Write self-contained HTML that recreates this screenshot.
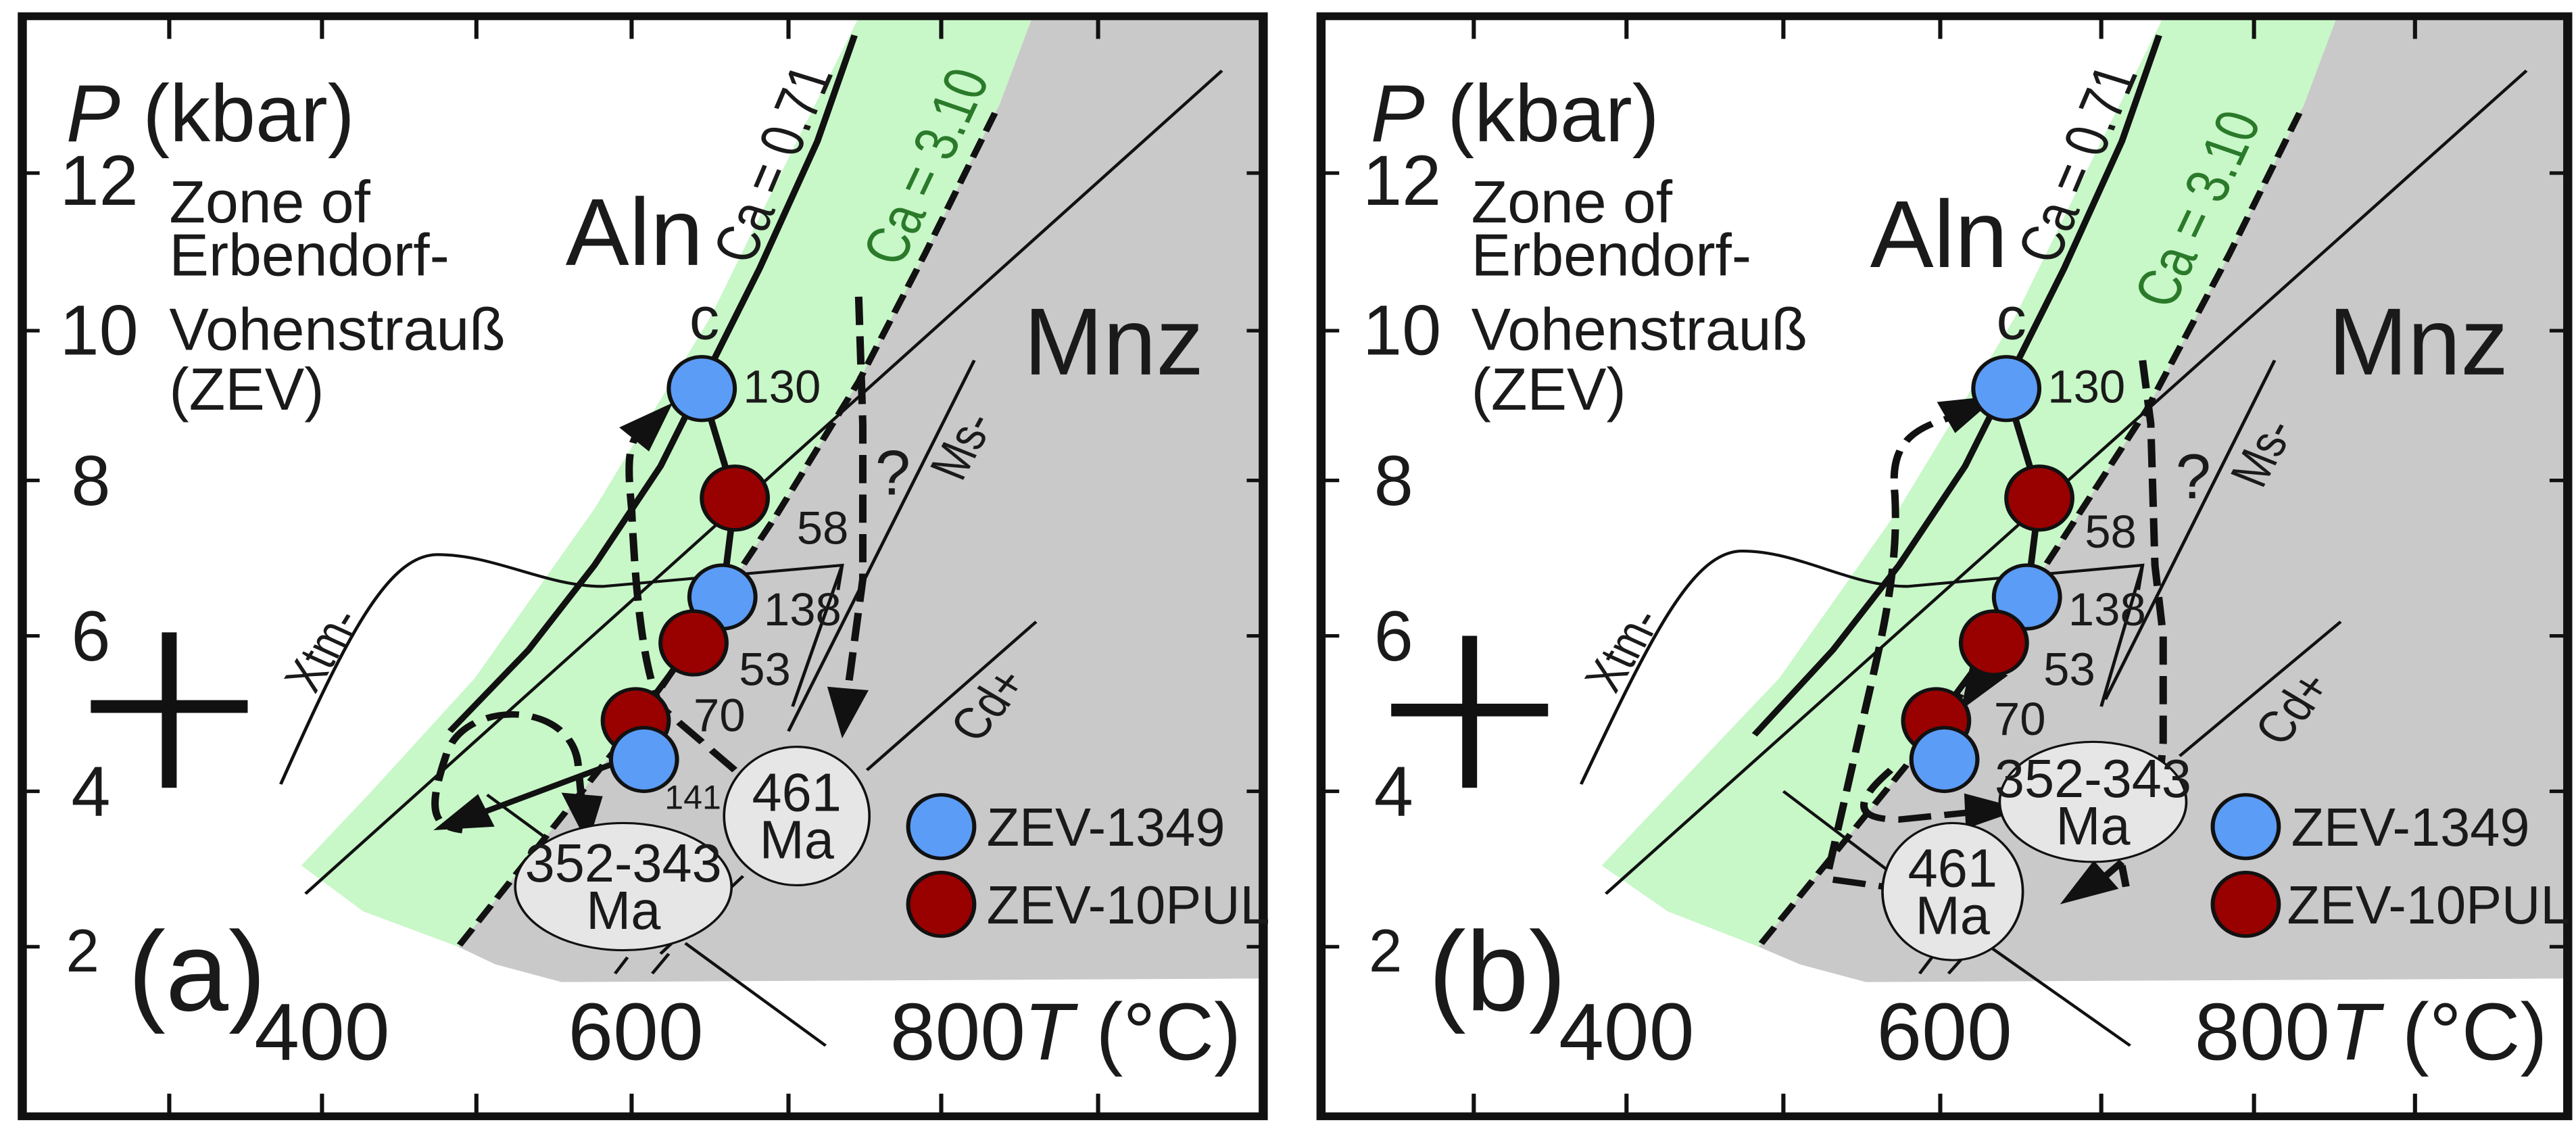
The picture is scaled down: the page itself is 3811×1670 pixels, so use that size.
<!DOCTYPE html>
<html><head><meta charset="utf-8"><style>
html,body{margin:0;padding:0;background:#fff;}
svg{display:block;}
text{font-family:"Liberation Sans",sans-serif;fill:#1a1a1a;}
</style></head><body>
<svg width="3811" height="1670" viewBox="0 0 3120 1598" preserveAspectRatio="none" xmlns="http://www.w3.org/2000/svg">
<!-- ============ PANEL A ============ -->
<g>
<polygon points="1250,25 1530,25 1530,1385 680,1390 600,1365 555,1340 780,1010 940,730 1040,540 1205,160 1210,150" fill="#c9c9c9"/>
<polygon points="1040,25 1250,25 1210,150 1205,160 1120,360 1040,540 940,730 780,1010 555,1340 440,1290 365,1225 450,1120 575,960 720,720 860,450 965,200" fill="#c8f7c8"/>
<g stroke="#111" stroke-width="4" fill="none">
<line x1="370" y1="1265" x2="1480" y2="100"/>
<line x1="1180" y1="510" x2="955" y2="1035"/>
<line x1="1020" y1="800" x2="960" y2="1000"/>
<line x1="1255" y1="880" x2="1050" y2="1090"/>
<line x1="900" y1="1240" x2="800" y2="1350"/>
<line x1="760" y1="1355" x2="745" y2="1378"/>
<line x1="810" y1="1350" x2="790" y2="1378"/>
<line x1="830" y1="1335" x2="1000" y2="1480"/>
<path d="M340,1110 C420,900 470,785 530,785 C600,785 660,830 730,830 L1020,800 L1015,835"/>
<line x1="590" y1="1125" x2="660" y2="1185"/>
</g>
<polyline points="1035,50 990,200 920,380 860,520 800,660 720,800 640,920 545,1035" fill="none" stroke="#111" stroke-width="8" stroke-linejoin="round"/>
<polyline points="1205,160 1120,360 1040,540 940,730 780,1010 555,1340" fill="none" stroke="#111" stroke-width="8" stroke-dasharray="28,12"/>
<g stroke="#111" stroke-width="9" fill="none" stroke-dasharray="40,16">
<path d="M890,1090 L800,1000 C780,950 770,850 765,720 C760,660 760,630 775,610"/>
<path d="M1040,420 L1045,600 L1045,820 L1030,950 L1025,990"/>
<path d="M705,1140 L700,1080 C690,990 560,990 540,1070 C520,1140 520,1170 560,1175"/>
</g>
<line x1="745" y1="1080" x2="580" y2="1152" stroke="#111" stroke-width="8"/>
<g fill="#111">
<polygon points="815,570 786,639 750,605"/>
<polygon points="1020,1045 1052,977 1002,972"/>
<polygon points="712,1195 730,1127 680,1122"/>
<polygon points="525,1175 599,1170 579,1124"/>
</g>
<polyline points="850,550 890,705 875,845 840,910 770,1020 780,1075" fill="none" stroke="#111" stroke-width="8"/>
<g stroke="#111" stroke-width="5">
<ellipse cx="850" cy="550" rx="40" ry="45" fill="#5b9cf6"/>
<ellipse cx="890" cy="705" rx="40" ry="45" fill="#990000"/>
<ellipse cx="875" cy="845" rx="40" ry="45" fill="#5b9cf6"/>
<ellipse cx="840" cy="910" rx="40" ry="45" fill="#990000"/>
<ellipse cx="770" cy="1020" rx="40" ry="45" fill="#990000"/>
<ellipse cx="780" cy="1075" rx="40" ry="45" fill="#5b9cf6"/>
<ellipse cx="1140" cy="1170" rx="40" ry="45" fill="#5b9cf6"/>
<ellipse cx="1140" cy="1280" rx="40" ry="45" fill="#990000"/>
</g>
<g stroke="#111" stroke-width="3" fill="#e6e6e6">
<ellipse cx="965" cy="1155" rx="88" ry="98"/>
<ellipse cx="755" cy="1255" rx="131" ry="90"/>
</g>
<rect x="27" y="23" width="1503" height="1557" fill="none" stroke="#111" stroke-width="11"/>
<g stroke="#111" stroke-width="5">
<line x1="27" y1="245" x2="48" y2="245"/><line x1="27" y1="468" x2="48" y2="468"/><line x1="27" y1="680" x2="48" y2="680"/><line x1="27" y1="900" x2="48" y2="900"/><line x1="27" y1="1120" x2="48" y2="1120"/><line x1="27" y1="1340" x2="48" y2="1340"/>
<line x1="1530" y1="245" x2="1510" y2="245"/><line x1="1530" y1="468" x2="1510" y2="468"/><line x1="1530" y1="680" x2="1510" y2="680"/><line x1="1530" y1="900" x2="1510" y2="900"/><line x1="1530" y1="1120" x2="1510" y2="1120"/><line x1="1530" y1="1340" x2="1510" y2="1340"/>
<line x1="205" y1="23" x2="205" y2="55"/><line x1="390" y1="23" x2="390" y2="55"/><line x1="577" y1="23" x2="577" y2="55"/><line x1="765" y1="23" x2="765" y2="55"/><line x1="955" y1="23" x2="955" y2="55"/><line x1="1140" y1="23" x2="1140" y2="55"/><line x1="1330" y1="23" x2="1330" y2="55"/>
<line x1="205" y1="1580" x2="205" y2="1548"/><line x1="390" y1="1580" x2="390" y2="1548"/><line x1="577" y1="1580" x2="577" y2="1548"/><line x1="765" y1="1580" x2="765" y2="1548"/><line x1="955" y1="1580" x2="955" y2="1548"/><line x1="1140" y1="1580" x2="1140" y2="1548"/><line x1="1330" y1="1580" x2="1330" y2="1548"/>
</g>
<g stroke="#111" stroke-width="18"><line x1="110" y1="1000" x2="300" y2="1000"/><line x1="205" y1="895" x2="205" y2="1115"/></g>
<text transform="translate(80,200) scale(0.855,1)" font-size="115"><tspan font-style="italic">P</tspan> (kbar)</text>
<g font-size="100" text-anchor="middle">
<text transform="translate(120,290) scale(0.855,1)">12</text>
<text transform="translate(120,502) scale(0.855,1)">10</text>
<text transform="translate(110,715) scale(0.855,1)">8</text>
<text transform="translate(110,935) scale(0.855,1)">6</text>
<text transform="translate(110,1155) scale(0.855,1)">4</text>
<text transform="translate(100,1375) scale(0.855,1)" font-size="85">2</text></g>
<g font-size="84">
<text transform="translate(205,315) scale(0.855,1)">Zone of</text>
<text transform="translate(205,390) scale(0.855,1)">Erbendorf-</text>
<text transform="translate(205,495) scale(0.855,1)">Vohenstrauß</text>
<text transform="translate(205,580) scale(0.855,1)">(ZEV)</text></g>
<text transform="translate(155,1430) scale(0.855,1)" font-size="160">(a)</text>
<g font-size="115" text-anchor="middle">
<text transform="translate(390,1500) scale(0.855,1)">400</text>
<text transform="translate(770,1500) scale(0.855,1)">600</text>
<text transform="translate(1160,1500) scale(0.855,1)">800</text></g>
<text transform="translate(1240,1500) scale(0.855,1)" font-size="115"><tspan font-style="italic">T</tspan> (°C)</text>
<text transform="translate(685,375) scale(0.855,1)" font-size="135">Aln</text>
<text transform="translate(1240,530) scale(0.855,1)" font-size="135">Mnz</text>
<text transform="translate(835,480) scale(0.855,1)" font-size="85">c</text>
<text transform="translate(1060,700) scale(0.855,1)" font-size="90">?</text>
<g font-size="66">
<text transform="translate(900,570) scale(0.855,1)">130</text>
<text transform="translate(965,770) scale(0.855,1)">58</text>
<text transform="translate(925,885) scale(0.855,1)">138</text>
<text transform="translate(895,970) scale(0.855,1)">53</text>
<text transform="translate(840,1035) scale(0.855,1)">70</text>
<text transform="translate(805,1145) scale(0.855,1)" font-size="48">141</text></g>
<text font-size="74" transform="translate(960,240) rotate(-70) scale(0.9,1)" text-anchor="middle">Ca = 0.71</text>
<text font-size="74" style="fill:#2a7a2a" transform="translate(1145,245) rotate(-68) scale(0.9,1)" text-anchor="middle">Ca = 3.10</text>
<text font-size="64" transform="translate(410,930) rotate(-62) scale(0.9,1)" text-anchor="middle">Xtm-</text>
<text font-size="64" transform="translate(1185,640) rotate(-65) scale(0.9,1)" text-anchor="middle">Ms-</text>
<text font-size="64" transform="translate(1215,1010) rotate(-55) scale(0.9,1)" text-anchor="middle">Cd+</text>
<g font-size="76" text-anchor="middle">
<text transform="translate(965,1148) scale(0.855,1)">461</text>
<text transform="translate(965,1215) scale(0.855,1)">Ma</text>
<text transform="translate(755,1248) scale(0.855,1)">352-343</text>
<text transform="translate(755,1315) scale(0.855,1)">Ma</text></g>
<g font-size="76">
<text transform="translate(1195,1197) scale(0.855,1)">ZEV-1349</text>
<text transform="translate(1195,1307) scale(0.855,1)">ZEV-10PUL</text></g>
</g>

<!-- ============ PANEL B ============ -->
<g transform="translate(1560,0)">
<polygon points="1270,25 1550,25 1550,1385 700,1390 620,1365 570,1340 800,1010 940,760 1040,580 1140,360 1225,160 1230,150" fill="#c9c9c9"/>
<polygon points="1060,25 1270,25 1230,150 1225,160 1140,360 1040,580 940,760 800,1010 570,1340 460,1290 380,1225 465,1120 595,960 740,720 880,450 985,200" fill="#c8f7c8"/>
<g stroke="#111" stroke-width="4" fill="none">
<line x1="385" y1="1265" x2="1500" y2="100"/>
<line x1="1195" y1="510" x2="990" y2="990"/>
<line x1="1035" y1="800" x2="985" y2="1000"/>
<line x1="1275" y1="880" x2="1080" y2="1070"/>
<line x1="600" y1="1120" x2="730" y2="1235"/>
<line x1="850" y1="1340" x2="1020" y2="1480"/>
<line x1="780" y1="1355" x2="765" y2="1378"/>
<line x1="820" y1="1352" x2="800" y2="1378"/>
<path d="M355,1110 C440,900 490,780 550,780 C620,780 680,830 750,830 L1035,800 L1030,835"/>
</g>
<polyline points="1055,50 1010,200 940,380 880,520 820,660 740,800 660,920 565,1040" fill="none" stroke="#111" stroke-width="8" stroke-linejoin="round"/>
<polyline points="1225,160 1140,360 1040,580 940,760 800,1010 570,1340" fill="none" stroke="#111" stroke-width="8" stroke-dasharray="28,12"/>
<g stroke="#111" stroke-width="9" fill="none" stroke-dasharray="40,16">
<path d="M655,1230 L700,1000 C720,900 740,800 735,700 C730,640 745,610 800,592"/>
<path d="M1035,510 L1045,600 L1050,800 L1060,900 L1060,1050 L1050,1180 L990,1240"/>
<path d="M730,1090 C690,1130 680,1160 740,1160 L825,1150"/>
<path d="M660,1245 L722,1255"/>
<path d="M1010,1225 L1015,1255"/>
</g>
<line x1="850" y1="935" x2="828" y2="970" stroke="#111" stroke-width="8"/>
<g fill="#111">
<polygon points="860,560 808,613 786,569"/>
<polygon points="815,1005 872,956 828,932"/>
<polygon points="890,1145 821,1173 819,1123"/>
<polygon points="935,1280 1006,1258 976,1218"/>
</g>
<polyline points="870,550 910,705 895,845 855,910 785,1020 795,1075" fill="none" stroke="#111" stroke-width="8"/>
<g stroke="#111" stroke-width="5">
<ellipse cx="870" cy="550" rx="40" ry="45" fill="#5b9cf6"/>
<ellipse cx="910" cy="705" rx="40" ry="45" fill="#990000"/>
<ellipse cx="895" cy="845" rx="40" ry="45" fill="#5b9cf6"/>
<ellipse cx="855" cy="910" rx="40" ry="45" fill="#990000"/>
<ellipse cx="785" cy="1020" rx="40" ry="45" fill="#990000"/>
<ellipse cx="795" cy="1075" rx="40" ry="45" fill="#5b9cf6"/>
<ellipse cx="1160" cy="1170" rx="40" ry="45" fill="#5b9cf6"/>
<ellipse cx="1160" cy="1280" rx="40" ry="45" fill="#990000"/>
</g>
<g stroke="#111" stroke-width="3" fill="#e6e6e6">
<ellipse cx="975" cy="1135" rx="113" ry="85"/>
<ellipse cx="805" cy="1262" rx="85" ry="97"/>
</g>
<rect x="40" y="23" width="1510" height="1557" fill="none" stroke="#111" stroke-width="11"/>
<g stroke="#111" stroke-width="5">
<line x1="40" y1="245" x2="62" y2="245"/><line x1="40" y1="468" x2="62" y2="468"/><line x1="40" y1="680" x2="62" y2="680"/><line x1="40" y1="900" x2="62" y2="900"/><line x1="40" y1="1120" x2="62" y2="1120"/><line x1="40" y1="1340" x2="62" y2="1340"/>
<line x1="1550" y1="245" x2="1528" y2="245"/><line x1="1550" y1="468" x2="1528" y2="468"/><line x1="1550" y1="680" x2="1528" y2="680"/><line x1="1550" y1="900" x2="1528" y2="900"/><line x1="1550" y1="1120" x2="1528" y2="1120"/><line x1="1550" y1="1340" x2="1528" y2="1340"/>
<line x1="225" y1="23" x2="225" y2="55"/><line x1="410" y1="23" x2="410" y2="55"/><line x1="600" y1="23" x2="600" y2="55"/><line x1="790" y1="23" x2="790" y2="55"/><line x1="985" y1="23" x2="985" y2="55"/><line x1="1170" y1="23" x2="1170" y2="55"/><line x1="1365" y1="23" x2="1365" y2="55"/>
<line x1="225" y1="1580" x2="225" y2="1548"/><line x1="410" y1="1580" x2="410" y2="1548"/><line x1="600" y1="1580" x2="600" y2="1548"/><line x1="790" y1="1580" x2="790" y2="1548"/><line x1="985" y1="1580" x2="985" y2="1548"/><line x1="1170" y1="1580" x2="1170" y2="1548"/><line x1="1365" y1="1580" x2="1365" y2="1548"/>
</g>
<g stroke="#111" stroke-width="18"><line x1="125" y1="1005" x2="315" y2="1005"/><line x1="220" y1="900" x2="220" y2="1115"/></g>
<text transform="translate(100,200) scale(0.855,1)" font-size="115"><tspan font-style="italic">P</tspan> (kbar)</text>
<g font-size="100" text-anchor="middle">
<text transform="translate(138,290) scale(0.855,1)">12</text>
<text transform="translate(138,502) scale(0.855,1)">10</text>
<text transform="translate(128,715) scale(0.855,1)">8</text>
<text transform="translate(128,935) scale(0.855,1)">6</text>
<text transform="translate(128,1155) scale(0.855,1)">4</text>
<text transform="translate(118,1375) scale(0.855,1)" font-size="85">2</text></g>
<g font-size="84">
<text transform="translate(222,315) scale(0.855,1)">Zone of</text>
<text transform="translate(222,390) scale(0.855,1)">Erbendorf-</text>
<text transform="translate(222,495) scale(0.855,1)">Vohenstrauß</text>
<text transform="translate(222,580) scale(0.855,1)">(ZEV)</text></g>
<text transform="translate(170,1430) scale(0.855,1)" font-size="160">(b)</text>
<g font-size="115" text-anchor="middle">
<text transform="translate(410,1500) scale(0.855,1)">400</text>
<text transform="translate(795,1500) scale(0.855,1)">600</text>
<text transform="translate(1180,1500) scale(0.855,1)">800</text></g>
<text transform="translate(1262,1500) scale(0.855,1)" font-size="115"><tspan font-style="italic">T</tspan> (°C)</text>
<text transform="translate(705,378) scale(0.855,1)" font-size="135">Aln</text>
<text transform="translate(1260,530) scale(0.855,1)" font-size="135">Mnz</text>
<text transform="translate(858,480) scale(0.855,1)" font-size="85">c</text>
<text transform="translate(1075,705) scale(0.855,1)" font-size="90">?</text>
<g font-size="66">
<text transform="translate(920,570) scale(0.855,1)">130</text>
<text transform="translate(965,775) scale(0.855,1)">58</text>
<text transform="translate(945,885) scale(0.855,1)">138</text>
<text transform="translate(915,970) scale(0.855,1)">53</text>
<text transform="translate(855,1040) scale(0.855,1)">70</text></g>
<text font-size="74" transform="translate(980,240) rotate(-70) scale(0.9,1)" text-anchor="middle">Ca = 0.71</text>
<text font-size="74" style="fill:#2a7a2a" transform="translate(1125,305) rotate(-68) scale(0.9,1)" text-anchor="middle">Ca = 3.10</text>
<text font-size="64" transform="translate(425,930) rotate(-62) scale(0.9,1)" text-anchor="middle">Xtm-</text>
<text font-size="64" transform="translate(1200,650) rotate(-65) scale(0.9,1)" text-anchor="middle">Ms-</text>
<text font-size="64" transform="translate(1235,1015) rotate(-55) scale(0.9,1)" text-anchor="middle">Cd+</text>
<g font-size="76" text-anchor="middle">
<text transform="translate(975,1128) scale(0.855,1)">352-343</text>
<text transform="translate(975,1195) scale(0.855,1)">Ma</text>
<text transform="translate(805,1255) scale(0.855,1)">461</text>
<text transform="translate(805,1322) scale(0.855,1)">Ma</text></g>
<g font-size="76">
<text transform="translate(1215,1197) scale(0.855,1)">ZEV-1349</text>
<text transform="translate(1210,1307) scale(0.855,1)">ZEV-10PUL</text></g>
</g>
</svg>
</body></html>
